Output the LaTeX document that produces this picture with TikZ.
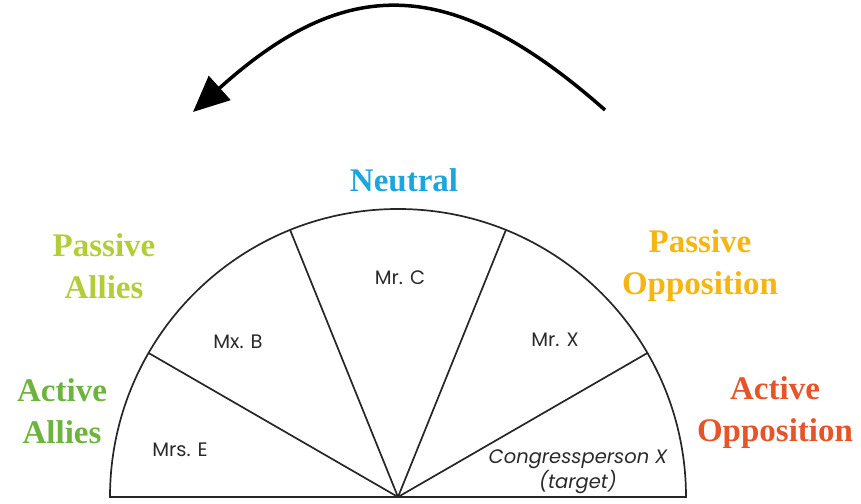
\documentclass[tikz,border=0pt]{standalone}
\usepackage{fontspec}
\setmainfont{Liberation Serif}
\setsansfont{Poppins}
\usetikzlibrary{arrows.meta}
\definecolor{neutralBlue}{HTML}{1BA6E0}
\definecolor{passAllyGreen}{HTML}{B3CD3A}
\definecolor{actAllyGreen}{HTML}{6CB33F}
\definecolor{passOppYellow}{HTML}{F5B512}
\definecolor{actOppRed}{HTML}{E8542A}
\definecolor{nameGray}{HTML}{2A2A2A}
\begin{document}
\begin{tikzpicture}[x=1pt,y=1pt,
  group/.style={font=\fontsize{33}{42}\selectfont\bfseries, align=center},
  person/.style={font=\sffamily\fontsize{19.5}{25}\selectfont, text=nameGray, align=center},
  wedge/.style={line width=1.7pt, draw=black!85}]
\useasboundingbox (0,0) rectangle (861,503);
% the half circle and its slices
\coordinate (O) at (398,6);
\draw[wedge] (110,6) arc[start angle=180, end angle=0, radius=288] -- cycle;
\coordinate (d1) at ([shift={(150:288)}]O);
\coordinate (d2) at ([shift={(112:288)}]O);
\coordinate (d3) at ([shift={(68:288)}]O);
\coordinate (d4) at ([shift={(30:288)}]O);
\path [wedge] (O) edge (d1);
\path [wedge] (O) edge (d2);
\path [wedge] (O) edge (d3);
\path [wedge] (O) edge (d4);
% groups
\node[group, text=neutralBlue] (neutral) at (404,323) {Neutral};
\node[group, text=passAllyGreen] (pasAllies) at (104,237) {Passive\\Allies};
\node[group, text=actAllyGreen] (actAllies) at (62,92) {Active\\Allies};
\node[group, text=passOppYellow] (pasOpp) at (700,237) {Passive\\Opposition};
\node[group, text=actOppRed] (actOpp) at (775,90) {Active\\Opposition};
% people
\node[person] (E) at (180,53) {Mrs. E};
\node[person] (B) at (238,161) {Mx. B};
\node[person] (C) at (400,225) {Mr. C};
\node[person] (X) at (555,163) {Mr. X};
\node[person, font=\sffamily\itshape\fontsize{19.5}{25}\selectfont] (target) at (578,31) {Congressperson X\\(target)};
% the arrow
\coordinate (arrS) at (605,393);
\coordinate (arrE) at (193,391);
\draw[line width=3.5pt, -{Triangle[length=36pt,width=32pt]}] (arrS) .. controls (450,530) and (345,528) .. (arrE);
\end{tikzpicture}
\end{document}
